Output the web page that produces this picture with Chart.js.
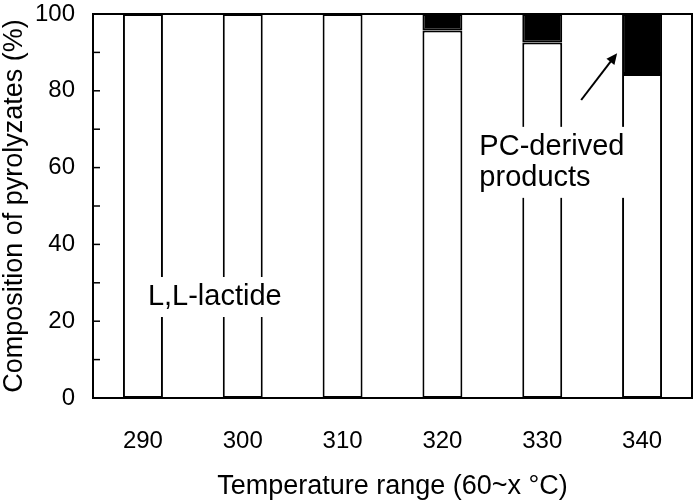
<!DOCTYPE html>
<html>
<head>
<meta charset="utf-8">
<script src="https://cdn.jsdelivr.net/npm/chart.js@4.4.0/dist/chart.umd.min.js"></script>
<style>
  html, body { margin: 0; padding: 0; background: #fff; }
  #wrap { width: 695px; height: 503px; }
</style>
</head>
<body>
<div id="wrap"><canvas id="myChart"></canvas></div>
<script>
// 溫度區間 (60~x °C)
const temps = ["290", "300", "310", "320", "330", "340"];
// 熱解產物組成 (%)
const lactide = [100, 100, 100, 95.7, 92.6, 84.4];
const pcProducts = [0, 0, 0, 4.3, 7.4, 15.6];

const FONT = "'Liberation Sans', Arial, sans-serif";

// 外框 + 內向刻度 + 文字標註
const framePlugin = {
  id: "frame",
  afterDatasetsDraw(chart) {
    const ctx = chart.ctx;
    const area = chart.chartArea;
    const x = chart.scales.x;
    const y = chart.scales.y;

    ctx.save();
    ctx.strokeStyle = "#000";
    ctx.lineWidth = 2;
    ctx.strokeRect(area.left, area.top, area.right - area.left, area.bottom - area.top);

    // y 軸刻度朝內
    ctx.lineWidth = 1.5;
    y.ticks.forEach((t) => {
      const py = y.getPixelForValue(t.value);
      ctx.beginPath();
      ctx.moveTo(area.left, py);
      ctx.lineTo(area.left + 7, py);
      ctx.stroke();
    });

    // 文字標註 (白底)
    function label(lines, xv, yv, align) {
      ctx.font = "29px " + FONT;
      ctx.textBaseline = "middle";
      ctx.textAlign = align;
      const lh = 31;
      const w = Math.max(...lines.map((s) => ctx.measureText(s).width));
      const px = x.getPixelForValue(xv);
      const py = y.getPixelForValue(yv);
      const left = align === "center" ? px - w / 2 : px;
      ctx.fillStyle = "#fff";
      ctx.fillRect(left - 5, py - 20, w + 10, lh * (lines.length - 1) + 40);
      ctx.fillStyle = "#000";
      lines.forEach((s, i) => ctx.fillText(s, px, py + i * lh));
    }
    label(["L,L-lactide"], 0.72, 26.3, "center");
    label(["PC-derived", "products"], 3.37, 65.4, "left");

    // 箭頭
    const x0 = x.getPixelForValue(4.39), y0 = y.getPixelForValue(77.6);
    const x1 = x.getPixelForValue(4.75), y1 = y.getPixelForValue(89.8);
    const ang = Math.atan2(y1 - y0, x1 - x0);
    ctx.lineWidth = 2;
    ctx.beginPath();
    ctx.moveTo(x0, y0);
    ctx.lineTo(x1 - 6 * Math.cos(ang), y1 - 6 * Math.sin(ang));
    ctx.stroke();
    ctx.beginPath();
    ctx.moveTo(x1, y1);
    ctx.lineTo(x1 - 11 * Math.cos(ang) + 5 * Math.sin(ang), y1 - 11 * Math.sin(ang) - 5 * Math.cos(ang));
    ctx.lineTo(x1 - 11 * Math.cos(ang) - 5 * Math.sin(ang), y1 - 11 * Math.sin(ang) + 5 * Math.cos(ang));
    ctx.closePath();
    ctx.fillStyle = "#000";
    ctx.fill();
    ctx.restore();
  },
};

const ctx = document.getElementById("myChart").getContext("2d");
new Chart(ctx, {
  type: "bar",
  data: {
    labels: temps,
    datasets: [
      {
        label: "L,L-lactide",
        data: lactide,
        backgroundColor: "#fff",
        borderColor: "#000",
        borderWidth: 2,
        borderSkipped: false,
      },
      {
        label: "PC-derived products",
        data: pcProducts,
        backgroundColor: "#000",
        borderColor: "#000",
        borderWidth: 2,
        borderSkipped: false,
      },
    ],
  },
  options: {
    responsive: true,
    maintainAspectRatio: false,
    animation: false,
    layout: { padding: { top: 14, right: 3, left: 0, bottom: 0 } },
    plugins: {
      legend: { display: false },
      tooltip: { enabled: false },
    },
    datasets: {
      bar: { categoryPercentage: 1, barPercentage: 0.4 },
    },
    scales: {
      x: {
        stacked: true,
        grid: { display: false },
        border: { display: true, color: "#000", width: 2 },
        ticks: { color: "#000", padding: 21, font: { family: FONT, size: 24 } },
        title: {
          display: true,
          text: "Temperature range (60~x °C)",
          color: "#000",
          font: { family: FONT, size: 27 },
          padding: { top: 0, bottom: 0 },
        },
        afterFit(scale) {
          scale.height = 105;
          scale.paddingLeft = 0;
          scale.paddingRight = 0;
        },
      },
      y: {
        stacked: true,
        min: 0,
        max: 100,
        grid: { display: false },
        border: { display: true, color: "#000", width: 2 },
        ticks: {
          stepSize: 10,
          color: "#000",
          padding: 10,
          font: { family: FONT, size: 24 },
          callback: (v) => (v % 20 === 0 ? v : ""),
        },
        title: {
          display: true,
          text: "Composition of pyrolyzates (%)",
          color: "#000",
          font: { family: FONT, size: 27, lineHeight: 1.1 },
          padding: { top: 0, bottom: 0 },
        },
        afterFit(scale) {
          scale.width = 93;
          scale.paddingTop = 0;
          scale.paddingBottom = 0;
        },
      },
    },
  },
  plugins: [framePlugin],
});
</script>
</body>
</html>
